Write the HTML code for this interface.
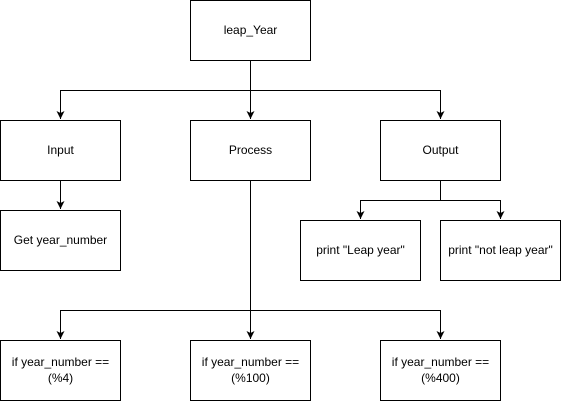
<!DOCTYPE html>
<html><head><style>
html,body{margin:0;padding:0;background:#fff;}
svg text{font-family:"Liberation Sans",Arial,sans-serif;font-size:12px;fill:#000;}
</style></head><body>
<svg width="561" height="401" viewBox="0 0 561 401" xmlns="http://www.w3.org/2000/svg">
<defs><marker id="a" markerWidth="8" markerHeight="8" refX="8" refY="4" orient="auto" markerUnits="userSpaceOnUse" viewBox="0 0 8 8"><path d="M0,0 L8,4 L0,8 L2,4 Z" fill="#000"/></marker></defs>
<g fill="#fff" stroke="#000" stroke-width="1">
<rect x="190.5" y="0.5" width="120" height="60"/>
<rect x="0.5" y="120.5" width="120" height="60"/>
<rect x="190.5" y="120.5" width="120" height="60"/>
<rect x="380.5" y="120.5" width="120" height="60"/>
<rect x="0.5" y="210.5" width="120" height="60"/>
<rect x="300.5" y="220.5" width="120" height="60"/>
<rect x="440.5" y="220.5" width="120" height="60"/>
<rect x="0.5" y="340.5" width="120" height="60"/>
<rect x="190.5" y="340.5" width="120" height="60"/>
<rect x="380.5" y="340.5" width="120" height="60"/>
</g>
<g fill="none" stroke="#000" stroke-width="1">
<path d="M250.5,60.5 V119" marker-end="url(#a)"/>
<path d="M250.5,90.5 H60.5 V119" marker-end="url(#a)"/>
<path d="M250.5,90.5 H440.5 V119" marker-end="url(#a)"/>
<path d="M60.5,180.5 V209" marker-end="url(#a)"/>
<path d="M440.5,180.5 V200.5 H360.5 V219" marker-end="url(#a)"/>
<path d="M440.5,200.5 H500.5 V219" marker-end="url(#a)"/>
<path d="M250.5,180.5 V339" marker-end="url(#a)"/>
<path d="M250.5,310.5 H60.5 V339" marker-end="url(#a)"/>
<path d="M250.5,310.5 H440.5 V339" marker-end="url(#a)"/>
</g>
<g text-anchor="middle">
<text x="250.5" y="34">leap_Year</text>
<text x="60.5" y="154">Input</text>
<text x="250.5" y="154">Process</text>
<text x="440.5" y="154">Output</text>
<text x="60.5" y="244">Get year_number</text>
<text x="360.5" y="254">print "Leap year"</text>
<text x="500.5" y="254">print "not leap year"</text>
<text x="60.5" y="366">if year_number ==</text><text x="60.5" y="382">(%4)</text>
<text x="250.5" y="366">if year_number ==</text><text x="250.5" y="382">(%100)</text>
<text x="440.5" y="366">if year_number ==</text><text x="440.5" y="382">(%400)</text>
</g>
</svg>
</body></html>
